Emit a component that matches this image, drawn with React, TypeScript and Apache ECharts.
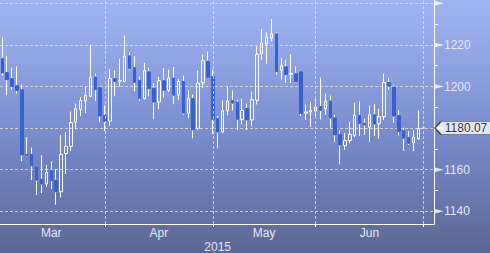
import React, { useEffect, useRef } from 'react';
import * as echarts from 'echarts';

// Daily candles, 2 Mar 2015 .. 30 Jun 2015 (index 0 .. 86)
const OPEN = [
  1213.4, 1206.7, 1203.8, 1200.4, 1198.5, 1167.4, 1167.4, 1161.5, 1155.5, 1153.2,
  1159.8, 1155.0, 1149.4, 1167.8, 1171.3, 1182.9, 1189.0, 1193.0, 1195.3, 1204.6,
  1199.5, 1186.1, 1183.4, 1203.8, 1202.5, 1202.5, 1214.8, 1209.1, 1203.0, 1194.2,
  1207.1, 1199.2, 1192.6, 1202.8, 1198.2, 1204.1, 1195.8, 1202.4, 1187.2, 1194.2,
  1179.9, 1201.7, 1212.1, 1204.8, 1184.7, 1178.1, 1188.3, 1193.3, 1192.5, 1184.2,
  1189.4, 1183.9, 1193.4, 1215.6, 1220.5, 1223.3, 1225.3, 1207.8, 1209.5, 1205.9,
  1206.2, 1207.1, 1187.2, 1187.8, 1188.2, 1190.4, 1189.3, 1193.1, 1185.0, 1177.0,
  1171.6, 1174.0, 1176.5, 1186.1, 1182.4, 1180.5, 1186.4, 1182.1, 1185.5, 1201.9,
  1199.8, 1186.1, 1178.9, 1175.6, 1173.0, 1174.9, 1180.07,
];
const CLOSE = [
  1206.5, 1203.3, 1200.0, 1198.1, 1167.1, 1166.8, 1161.9, 1155.0, 1153.1, 1158.8,
  1154.7, 1149.4, 1167.4, 1171.3, 1182.6, 1189.3, 1193.3, 1195.7, 1204.6, 1198.5,
  1185.8, 1183.2, 1203.8, 1202.4, 1202.8, 1214.6, 1208.6, 1202.0, 1194.2, 1207.6,
  1198.9, 1192.5, 1202.8, 1198.2, 1204.1, 1195.8, 1202.4, 1187.2, 1194.2, 1179.1,
  1201.7, 1212.4, 1204.4, 1184.2, 1178.1, 1188.3, 1193.1, 1192.0, 1184.2, 1188.5,
  1183.9, 1193.7, 1215.6, 1220.9, 1223.7, 1225.3, 1207.1, 1209.9, 1205.7, 1206.2,
  1202.4, 1187.0, 1187.8, 1188.5, 1190.2, 1188.6, 1193.1, 1184.8, 1176.7, 1171.9,
  1174.0, 1177.0, 1186.1, 1182.1, 1181.5, 1186.4, 1181.9, 1185.5, 1201.9, 1200.1,
  1185.8, 1178.3, 1175.1, 1172.7, 1175.6, 1179.8, 1180.07,
];
const LOW = [
  1205.2, 1195.8, 1198.5, 1196.6, 1164.2, 1166.3, 1155.0, 1147.8, 1148.8, 1151.8,
  1150.7, 1143.2, 1146.7, 1157.9, 1169.0, 1179.4, 1185.8, 1187.2, 1194.9, 1193.0,
  1182.9, 1178.6, 1181.0, 1195.3, 1199.8, 1202.0, 1207.8, 1197.7, 1193.0, 1193.7,
  1195.3, 1184.2, 1189.0, 1194.7, 1197.4, 1191.5, 1193.4, 1186.4, 1184.8, 1175.1,
  1179.1, 1199.3, 1204.1, 1177.0, 1170.3, 1177.8, 1186.1, 1188.5, 1179.1, 1181.8,
  1179.1, 1180.8, 1191.4, 1212.6, 1211.0, 1221.7, 1205.7, 1203.3, 1201.7, 1201.7,
  1202.0, 1185.8, 1183.9, 1180.5, 1185.8, 1184.2, 1186.3, 1180.2, 1173.3, 1162.6,
  1169.5, 1172.7, 1175.7, 1176.2, 1176.7, 1173.3, 1176.2, 1174.9, 1183.9, 1198.5,
  1182.6, 1176.5, 1169.0, 1171.9, 1169.0, 1174.3, 1179.6,
];
const HIGH = [
  1223.6, 1214.8, 1209.1, 1209.7, 1200.9, 1175.7, 1170.6, 1161.9, 1167.0, 1162.3,
  1164.1, 1160.3, 1176.7, 1178.1, 1188.0, 1191.8, 1194.9, 1199.8, 1220.1, 1206.2,
  1199.8, 1190.9, 1208.4, 1207.6, 1213.4, 1224.5, 1216.4, 1214.5, 1204.8, 1211.3,
  1209.1, 1201.7, 1204.6, 1208.9, 1208.1, 1209.4, 1203.6, 1205.2, 1198.2, 1196.1,
  1207.6, 1215.3, 1216.9, 1208.1, 1185.8, 1193.3, 1199.8, 1198.1, 1193.7, 1194.2,
  1191.8, 1197.6, 1219.3, 1227.7, 1226.1, 1232.5, 1226.0, 1213.7, 1212.9, 1215.3,
  1209.7, 1207.6, 1191.4, 1192.5, 1194.5, 1204.3, 1196.6, 1195.7, 1186.4, 1178.9,
  1177.6, 1183.1, 1192.2, 1192.8, 1184.5, 1190.9, 1191.7, 1189.4, 1206.2, 1204.1,
  1200.9, 1188.5, 1180.2, 1178.6, 1178.9, 1188.5, 1180.6,
];

const MONTHS = ['Mar', 'Apr', 'May', 'Jun'];
const MONTH_END_INDEX = [21, 43, 64, 86];
const MONTH_LABEL_AT = [10, 32, 53.5, 75];
const YEAR_LABEL = '2015';
const YEAR_LABEL_AT = 44;

const Y_LABELS = [1140, 1160, 1200, 1220];
const Y_FLAGS = [1140, 1160, 1180, 1200, 1220, 1240];
const Y_MINOR = [1150, 1170, 1190, 1210, 1230];
const LAST_PRICE = 1180.07;

const X_MIN = -0.47;
const X_MAX = 88.19;
const Y_MIN = 1133.92;
const Y_MAX = 1241.58;

const FONT = 'Liberation Sans';
const LABEL_COLOR = '#e4e7f6';
const GRID_LINE = { type: [3, 2] as number[], color: 'rgba(226,222,205,0.85)', width: 1 };

export default function App() {
  const ref = useRef<HTMLDivElement>(null);

  useEffect(() => {
    const chart = echarts.init(ref.current!, null, { renderer: 'svg' });
    const rows = OPEN.map((o, i) => [i, o, CLOSE[i], LOW[i], HIGH[i]]);
    const downBodies = rows
      .filter((r) => r[2] < r[1])
      .map((r) => [r[0], r[1], r[2], r[2], r[1]]);

    chart.setOption({
      animation: false,
      grid: { left: 0, top: 0, width: 434, height: 225 },
      xAxis: [
        {
          type: 'value',
          min: X_MIN,
          max: X_MAX,
          position: 'bottom',
          axisLine: { show: true, onZero: false, lineStyle: { color: '#ffffff', width: 1 } },
          axisTick: {
            show: true,
            customValues: MONTH_END_INDEX,
            length: 3,
            lineStyle: { color: '#ffffff' },
          },
          splitLine: { show: false },
          axisLabel: {
            customValues: MONTH_LABEL_AT,
            formatter: (v: number) => {
              const k = MONTH_LABEL_AT.indexOf(Number(v));
              return k >= 0 ? MONTHS[k] : '';
            },
            color: LABEL_COLOR,
            fontFamily: FONT,
            fontSize: 12,
            margin: 3,
          },
        },
        {
          type: 'value',
          min: X_MIN,
          max: X_MAX,
          position: 'bottom',
          axisLine: { show: false, onZero: false },
          axisTick: { show: false },
          splitLine: { show: false },
          axisLabel: {
            customValues: [YEAR_LABEL_AT],
            formatter: () => YEAR_LABEL,
            color: LABEL_COLOR,
            fontFamily: FONT,
            fontSize: 12,
            margin: 17,
          },
        },
      ],
      yAxis: [
        {
          type: 'value',
          min: Y_MIN,
          max: Y_MAX,
          position: 'right',
          axisLine: { show: true, onZero: false, lineStyle: { color: '#ffffff', width: 1 } },
          axisTick: { show: false },
          splitLine: { show: true, showMinLine: false, showMaxLine: false, lineStyle: GRID_LINE },
          axisLabel: {
            customValues: Y_LABELS,
            formatter: (v: number) => String(Math.round(Number(v))),
            color: LABEL_COLOR,
            fontFamily: FONT,
            fontSize: 12,
            margin: 10,
          },
        },
        {
          type: 'value',
          min: Y_MIN,
          max: Y_MAX,
          position: 'right',
          axisLine: { show: false, onZero: false },
          axisTick: { show: true, customValues: Y_MINOR, length: 4, lineStyle: { color: '#ffffff' } },
          splitLine: { show: false },
          axisLabel: { show: false },
        },
      ],
      series: [
        {
          type: 'candlestick',
          xAxisIndex: 0,
          yAxisIndex: 0,
          barWidth: 3,
          data: rows,
          itemStyle: {
            color: 'transparent',
            color0: 'transparent',
            borderColor: '#ffffff',
            borderColor0: '#ffffff',
            borderColorDoji: '#ffffff',
            borderWidth: 1,
          },
          markLine: {
            silent: true,
            symbol: ['none', 'none'],
            label: { show: false },
            lineStyle: GRID_LINE,
            data: MONTH_END_INDEX.map((v) => ({ xAxis: v })),
          },
          z: 2,
        },
        {
          type: 'candlestick',
          xAxisIndex: 0,
          yAxisIndex: 0,
          barWidth: 3,
          data: downBodies,
          itemStyle: {
            color: '#3562cc',
            color0: '#3562cc',
            borderColor: '#3562cc',
            borderColor0: '#3562cc',
            borderWidth: 1,
          },
          z: 3,
        },
        {
          type: 'scatter',
          xAxisIndex: 0,
          yAxisIndex: 0,
          clip: false,
          silent: true,
          symbol: 'path://M0,0L10,2.5L0,5Z',
          symbolSize: [10, 5],
          symbolOffset: [5, 0],
          symbolKeepAspect: false,
          itemStyle: { color: '#ffffff' },
          data: Y_FLAGS.map((v) => [X_MAX, v]),
          z: 5,
        },
        {
          type: 'scatter',
          xAxisIndex: 0,
          yAxisIndex: 0,
          clip: false,
          silent: true,
          symbol: 'path://M0,6.5L6,0L56,0L56,13L6,13Z',
          symbolSize: [56, 13],
          symbolOffset: [29, 0],
          symbolKeepAspect: false,
          itemStyle: { color: '#ffffff', borderColor: '#2a2a2a', borderWidth: 1 },
          label: {
            show: true,
            position: 'inside',
            offset: [3, 0],
            formatter: () => LAST_PRICE.toFixed(2),
            color: '#000000',
            fontFamily: FONT,
            fontSize: 12,
          },
          data: [[X_MAX, LAST_PRICE]],
          z: 10,
        },
      ],
    });
    return () => chart.dispose();
  }, []);

  return (
    <div
      ref={ref}
      style={{
        position: 'fixed',
        left: 0,
        top: 0,
        width: 490,
        height: 253,
        background: 'linear-gradient(to bottom, #a0b4f4 0%, #8fa2e2 25%, #7b8ecf 50%, #6a7bb2 75%, #5a6792 100%)',
      }}
    />
  );
}
